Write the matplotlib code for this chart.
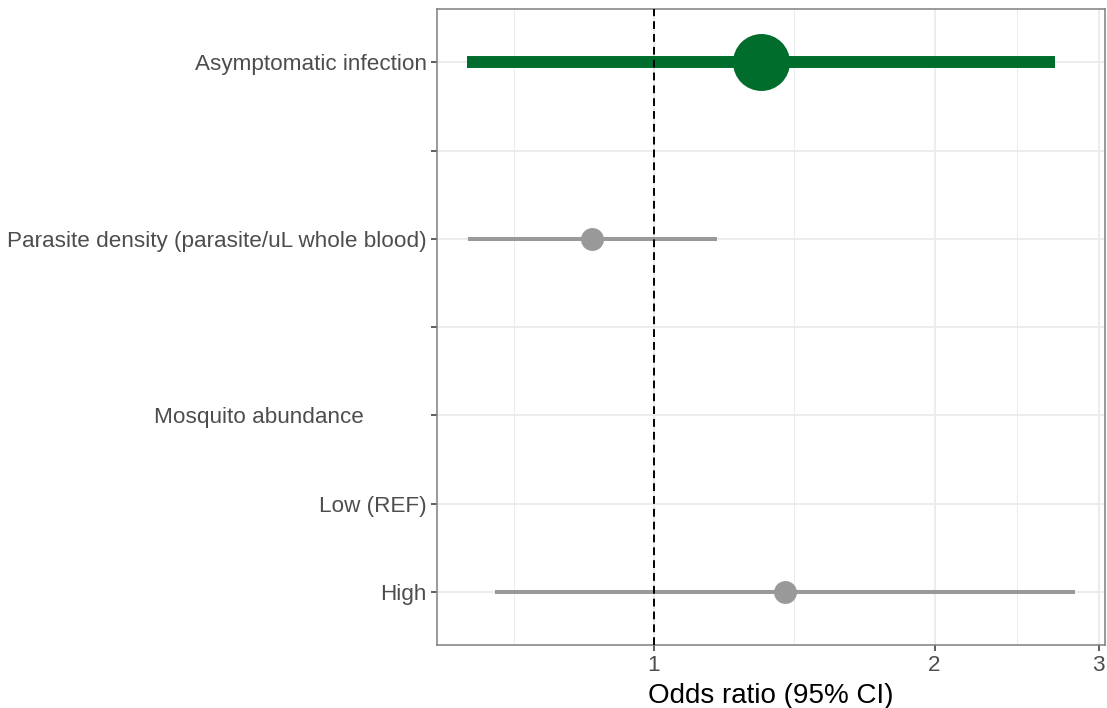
import numpy as np
import matplotlib
matplotlib.use("Agg")
import matplotlib.pyplot as plt

plt.rcParams['font.family'] = ['Liberation Sans', 'DejaVu Sans']

# Rows from top to bottom (blank rows are spacers)
labels = ["Asymptomatic infection",
          "",
          "Parasite density (parasite/uL whole blood)",
          "",
          "Mosquito abundance          ",
          "Low (REF)",
          "High"]
odds = [1.303, np.nan, 0.859, np.nan, np.nan, np.nan, 1.381]
lower = [0.631, np.nan, 0.632, np.nan, np.nan, np.nan, 0.676]
upper = [2.69, np.nan, 1.168, np.nan, np.nan, np.nan, 2.827]
highlight = [True, False, False, False, False, False, False]

x_major = [1, 2, 3]

GREEN = "#006d2c"
GREY = "#999999"

fig = plt.figure(figsize=(11.07, 7.08), dpi=100)
ax = fig.add_axes([0.3948, 0.089, 0.6034, 0.8979])

n = len(labels)
ypos = np.arange(n, 0, -1)

for y, o, lo, hi, hl in zip(ypos, odds, lower, upper, highlight):
    if np.isnan(o):
        continue
    col = GREEN if hl else GREY
    lw = 8.6 if hl else 2.9
    ms = 41 if hl else 16.5
    ax.plot([lo, hi], [y, y], color=col, lw=lw, solid_capstyle="butt", zorder=3)
    ax.plot(o, y, "o", color=col, ms=ms, mec="none", zorder=4)

ax.axvline(1, color="black", lw=1.4, dashes=(4, 2.6), zorder=5)

ax.set_xscale("log")
lo_all = np.log(np.nanmin(lower))
hi_all = np.log(np.nanmax(upper))
pad = 0.05 * (hi_all - lo_all)
ax.set_xlim(np.exp(lo_all - pad), np.exp(hi_all + pad))
ax.set_ylim(0.4, n + 0.6)

ax.set_xticks(x_major)
ax.set_xticklabels([str(v) for v in x_major])
minor = [np.sqrt(0.5 * 1), np.sqrt(1 * 2), np.sqrt(2 * 3)]
ax.set_xticks(minor, minor=True)
ax.set_xticklabels([], minor=True)
ax.set_yticks(ypos)
ax.set_yticklabels(labels)

ax.grid(which="major", color="#ebebeb", lw=1.3, zorder=0)
ax.grid(which="minor", axis="x", color="#ebebeb", lw=0.7, zorder=0)
ax.set_axisbelow(True)

for s in ax.spines.values():
    s.set_color("#7f7f7f")
    s.set_linewidth(1.1)

ax.tick_params(axis="both", which="major", labelsize=16.2, labelcolor="#4d4d4d",
               color="#333333", length=4, width=1.1, pad=3.4)
ax.tick_params(axis="x", which="minor", length=0)

ax.set_xlabel("Odds ratio (95% CI)", fontsize=20, color="black", labelpad=5)

fig.savefig("out.png", dpi=100)
